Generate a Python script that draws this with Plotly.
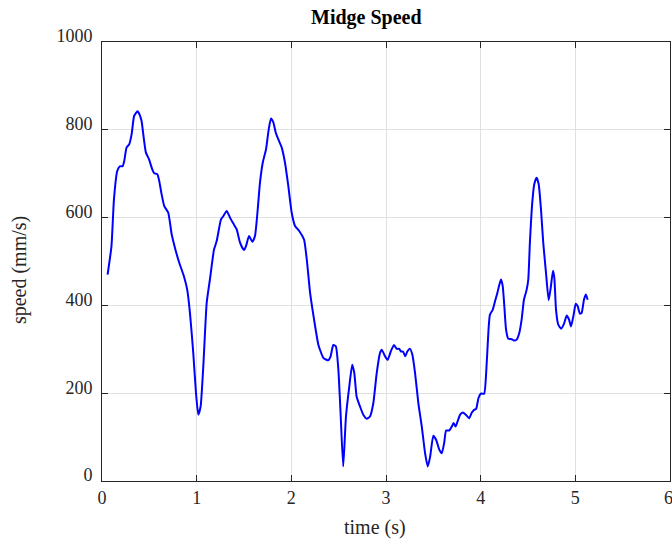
import plotly.graph_objects as go

# Midge flight speed over time
time_s = [
    0.059, 0.10, 0.126, 0.161, 0.189, 0.218, 0.235, 0.26, 0.288, 0.313,
    0.34, 0.376, 0.40, 0.418, 0.443, 0.464, 0.496, 0.531, 0.552, 0.584,
    0.605, 0.63, 0.658, 0.70, 0.736, 0.771, 0.816, 0.866, 0.90, 0.929,
    0.964, 0.993, 1.017, 1.042, 1.07, 1.106, 1.14, 1.183, 1.211, 1.257,
    1.281, 1.317, 1.352, 1.394, 1.423, 1.458, 1.50, 1.521, 1.553, 1.588,
    1.616, 1.645, 1.669, 1.698, 1.733, 1.761, 1.785, 1.81, 1.835, 1.863,
    1.898, 1.933, 1.968, 2.004, 2.039, 2.085, 2.134, 2.163, 2.198, 2.24,
    2.286, 2.34, 2.39, 2.415, 2.443, 2.47, 2.497, 2.52, 2.548, 2.577,
    2.612, 2.643, 2.665, 2.69, 2.725, 2.76, 2.796, 2.831, 2.866, 2.902,
    2.937, 2.955, 2.99, 3.018, 3.05, 3.085, 3.113, 3.14, 3.159, 3.18,
    3.204, 3.225, 3.254, 3.278, 3.307, 3.342, 3.378, 3.413, 3.441, 3.466,
    3.50, 3.529, 3.564, 3.589, 3.614, 3.635, 3.667, 3.695, 3.713, 3.734,
    3.755, 3.783, 3.811, 3.843, 3.878, 3.907, 3.931, 3.952, 3.977, 4.002,
    4.037, 4.058, 4.083, 4.098, 4.127, 4.151, 4.176, 4.197, 4.215, 4.233,
    4.25, 4.268, 4.292, 4.328, 4.352, 4.38, 4.408, 4.433, 4.457, 4.486,
    4.503, 4.52, 4.545, 4.566, 4.591, 4.613, 4.637, 4.661, 4.69, 4.718,
    4.74, 4.764, 4.778, 4.796, 4.82, 4.849, 4.88, 4.909, 4.933, 4.954,
    4.979, 5.004, 5.025, 5.049, 5.067, 5.091, 5.112, 5.13,
]
speed_mm_s = [
    470, 535, 641, 706, 717, 717, 729, 760, 767, 790,
    832, 842, 833, 820, 778, 748, 733, 710, 701, 699,
    683, 653, 626, 611, 562, 531, 497, 466, 436, 383,
    292, 200, 151, 170, 261, 406, 459, 527, 546, 596,
    603, 615, 600, 584, 573, 543, 526, 535, 558, 545,
    558, 619, 680, 725, 756, 801, 826, 817, 794, 778,
    760, 725, 672, 611, 581, 569, 550, 505, 429, 368,
    310, 280, 275, 284, 310, 307, 253, 155, 33, 147,
    215, 265, 246, 192, 170, 151, 142, 147, 177, 246,
    292, 299, 284, 276, 295, 310, 301, 301, 295, 295,
    284, 295, 301, 288, 246, 177, 124, 63, 33, 55,
    103, 94, 71, 63, 86, 115, 115, 124, 132, 124,
    135, 151, 156, 151, 143, 156, 162, 164, 189, 199,
    199, 246, 345, 379, 390, 409, 428, 447, 459, 444,
    398, 345, 324, 323, 320, 322, 337, 368, 413, 436,
    459, 543, 634, 676, 691, 676, 619, 543, 474, 412,
    440, 479, 463, 390, 356, 347, 358, 377, 368, 352,
    375, 404, 398, 381, 383, 413, 425, 413,
]

x_ticks = [0, 1, 2, 3, 4, 5, 6]
y_ticks = [0, 200, 400, 600, 800, 1000]

serif = "Liberation Serif, Times New Roman, serif"
axis_color = "#262626"
grid_color = "#e0e0e0"

fig = go.Figure(
    go.Scatter(
        x=time_s,
        y=speed_mm_s,
        mode="lines",
        line=dict(color="#0000ff", width=2, shape="spline", smoothing=0.5),
        hoverinfo="skip",
    )
)

tick_font = dict(family=serif, size=18, color=axis_color)
label_font = dict(family=serif, size=20, color=axis_color)

axis_common = dict(
    showline=True,
    linecolor=axis_color,
    linewidth=1,
    mirror="ticks",
    ticks="inside",
    ticklen=6,
    tickcolor=axis_color,
    tickwidth=1,
    showgrid=True,
    gridcolor=grid_color,
    gridwidth=1,
    zeroline=False,
    tickfont=tick_font,
)

# the last x label sits on the figure edge, so it is drawn as an annotation
fig.update_xaxes(
    range=[0, 6],
    tickvals=x_ticks,
    ticktext=[str(v) for v in x_ticks[:-1]] + [""],
    **axis_common,
)
fig.update_yaxes(
    range=[0, 1000],
    tickvals=y_ticks,
    ticktext=[str(v) for v in y_ticks],
    ticklabelshift=-6,
    ticklabelstandoff=5,
    **axis_common,
)

fig.update_layout(
    width=672,
    height=545,
    margin=dict(l=102, r=2, t=42, b=64),
    paper_bgcolor="white",
    plot_bgcolor="white",
    showlegend=False,
    annotations=[
        dict(
            text=str(x_ticks[-1]),
            xref="x", yref="paper",
            x=x_ticks[-1], y=-0.038,
            xanchor="center", yanchor="middle",
            xshift=-2,
            showarrow=False,
            font=tick_font,
        ),
        dict(
            text="<b>Midge Speed</b>",
            xref="paper", yref="paper",
            x=0.4665, y=1.0547,
            xanchor="center", yanchor="middle",
            showarrow=False,
            font=dict(family=serif, size=20, color="#000000"),
        ),
        dict(
            text="time (s)",
            xref="paper", yref="paper",
            x=0.4806, y=-0.107,
            xanchor="center", yanchor="middle",
            showarrow=False,
            font=label_font,
        ),
        dict(
            text="speed (mm/s)",
            xref="paper", yref="paper",
            x=-0.146, y=0.4806,
            xanchor="center", yanchor="middle",
            textangle=-90,
            showarrow=False,
            font=label_font,
        ),
    ],
)

fig.write_html("out.html")
